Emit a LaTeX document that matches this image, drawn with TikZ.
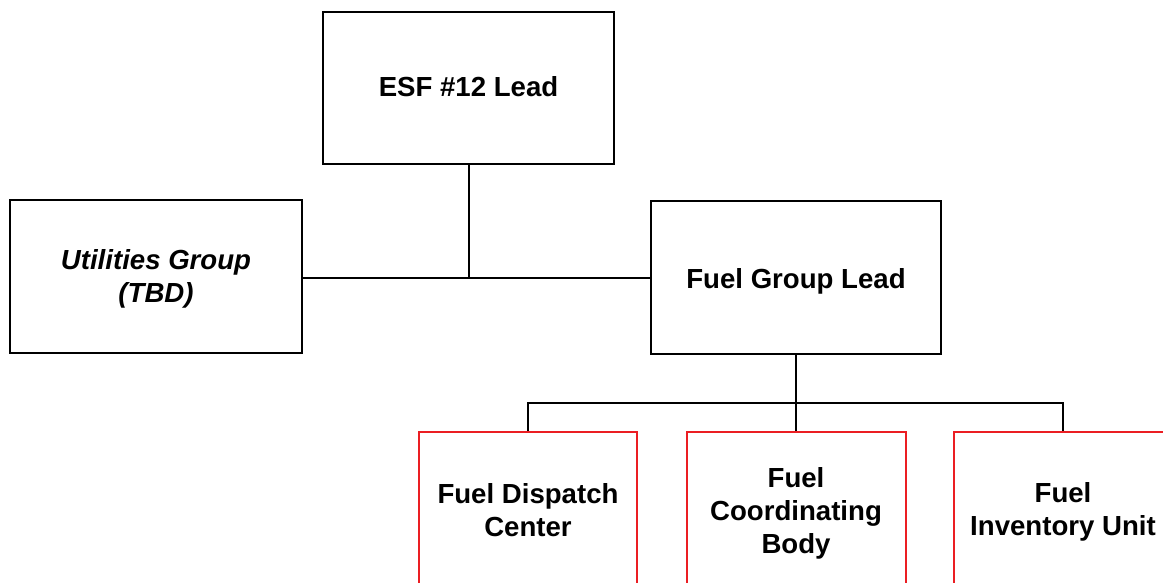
\documentclass[tikz,border=0pt]{standalone}
\usepackage{fontspec}
\setmainfont{Liberation Sans}
\definecolor{boxred}{RGB}{235,30,35}
\begin{document}
\begin{tikzpicture}[x=1pt,y=-1pt,
  txt/.style={inner sep=0pt,align=center,font=\fontsize{27.6}{33}\selectfont\bfseries},
  box/.style={txt,draw=black,line width=2pt,rectangle},
  redbox/.style={box,draw=boxred},
  link/.style={draw=black,line width=2pt}]
\useasboundingbox (0,0) rectangle (1163,583);
\clip (0,0) rectangle (1163,583);
\fill[white] (0,0) rectangle (1163,583);
\node[box,minimum width=291pt,minimum height=152pt,text height=24pt,text depth=6pt] (esf) at (468.5,88) {ESF \#12 Lead};
\node[box,minimum width=292pt,minimum height=153pt,
  label={[txt,yshift=-2.5pt]center:\itshape Utilities Group\\\itshape (TBD)}] (util) at (156,276.5) {};
\node[box,minimum width=290pt,minimum height=153pt,text height=28pt,text depth=6pt] (fgl) at (796,277.5) {Fuel Group Lead};
\node[redbox,minimum width=218pt,minimum height=156pt] (disp) at (528,510) {Fuel Dispatch\\Center};
\node[redbox,minimum width=219pt,minimum height=156pt,
  label={[txt,yshift=-3pt]center:Fuel\\Coordinating\\Body}] (coord) at (796,510) {};
\node[redbox,minimum width=218pt,minimum height=156pt,
  label={[txt,yshift=-2pt]center:Fuel\\Inventory Unit}] (inv) at (1063,510) {};
\coordinate (bar) at (796,403);
\draw[link] (util.east |- fgl.west) -- (fgl.west);
\draw[link] (esf.south) -- (esf.south |- fgl.west);
\draw[link] (fgl.south) -- (coord.north);
\draw[link] (disp.north) |- (bar) -| (inv.north);
\end{tikzpicture}
\end{document}
